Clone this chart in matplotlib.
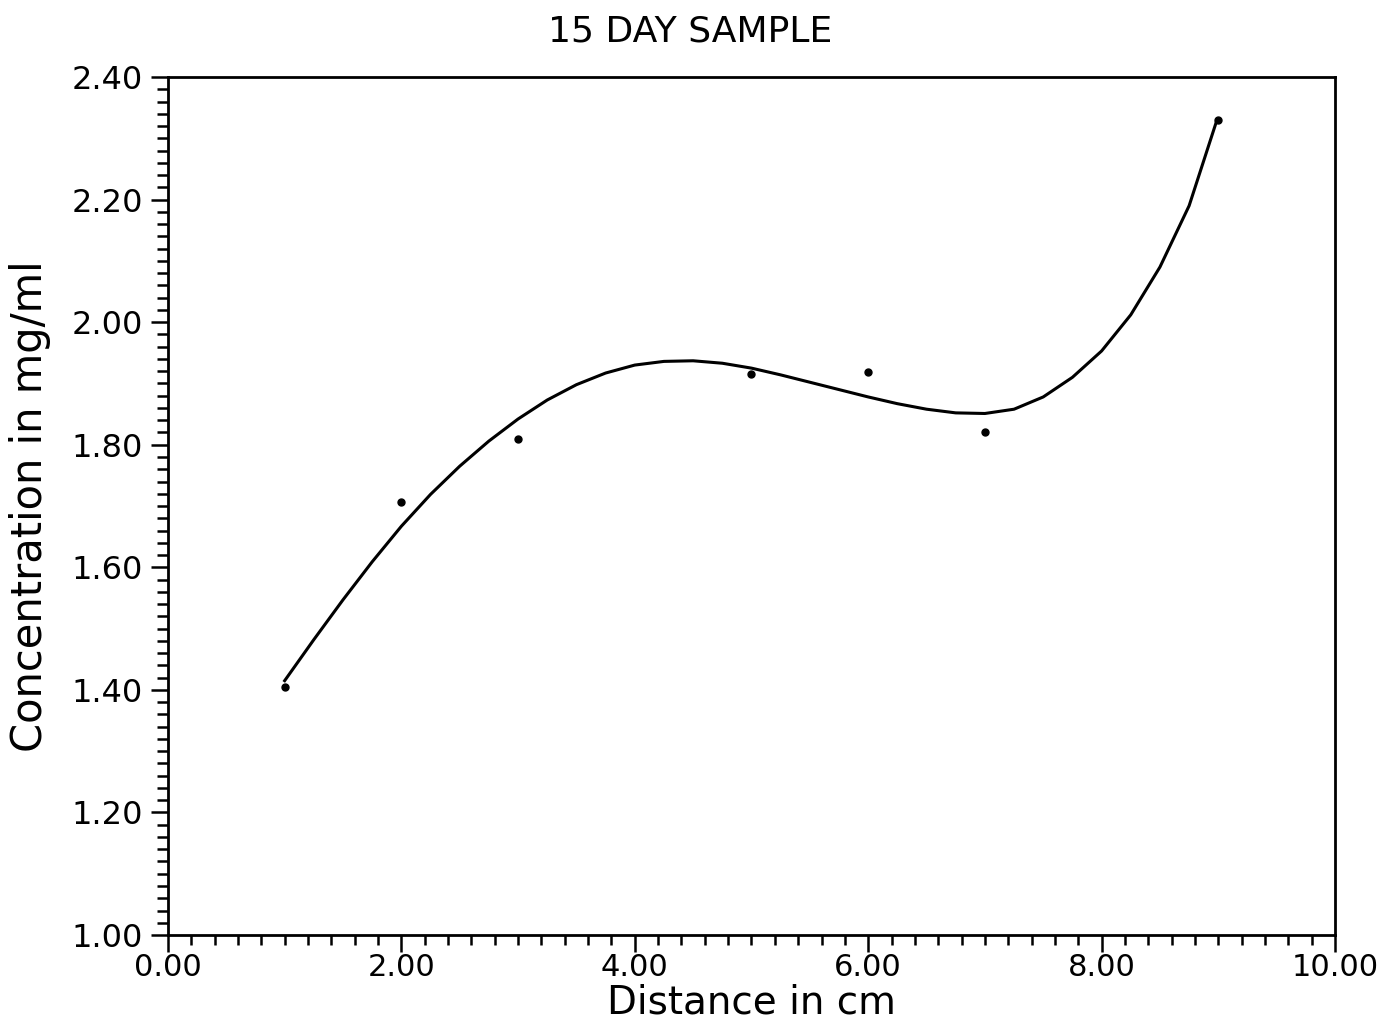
import numpy as np
import matplotlib.pyplot as plt
from matplotlib.ticker import MultipleLocator, FormatStrFormatter

# measured samples
distance = [1.0, 2.0, 3.0, 5.0, 6.0, 7.0, 9.0]
concentration = [1.404, 1.707, 1.809, 1.916, 1.919, 1.821, 2.330]

# fitted curve
curve_x = [1.00, 1.25, 1.50, 1.75, 2.00, 2.25, 2.50, 2.75, 3.00, 3.25,
           3.50, 3.75, 4.00, 4.25, 4.50, 4.75, 5.00, 5.25, 5.50, 5.75,
           6.00, 6.25, 6.50, 6.75, 7.00, 7.25, 7.50, 7.75, 8.00, 8.25,
           8.50, 8.75, 8.98]
curve_y = [1.415, 1.482, 1.547, 1.609, 1.667, 1.719, 1.765, 1.806, 1.842, 1.873,
           1.898, 1.917, 1.930, 1.936, 1.937, 1.933, 1.925, 1.914, 1.902, 1.890,
           1.878, 1.867, 1.858, 1.852, 1.851, 1.858, 1.878, 1.910, 1.953, 2.012,
           2.090, 2.190, 2.325]

title = "15 DAY SAMPLE"
xlabel = "Distance in cm"
ylabel = "Concentration in mg/ml"

plt.rcParams["font.family"] = "DejaVu Sans"

fig = plt.figure(figsize=(13.8, 10.23), dpi=100)
ax = fig.add_axes([0.1217, 0.086, 0.8457, 0.8387])

ax.plot(curve_x, curve_y, color="black", lw=2.2, solid_joinstyle="round")
ax.plot(distance, concentration, "o", color="black", ms=5)

ax.set_xlim(0, 10)
ax.set_ylim(1.0, 2.4)
ax.xaxis.set_major_locator(MultipleLocator(2))
ax.xaxis.set_minor_locator(MultipleLocator(0.2))
ax.yaxis.set_major_locator(MultipleLocator(0.2))
ax.yaxis.set_minor_locator(MultipleLocator(0.02))
ax.xaxis.set_major_formatter(FormatStrFormatter("%.2f"))
ax.yaxis.set_major_formatter(FormatStrFormatter("%.2f"))

ax.tick_params(which="both", direction="out", width=1.8, labelsize=23,
               top=False, right=False)
ax.tick_params(axis="x", labelsize=22)
ax.tick_params(axis="y", which="major", length=12, pad=6)
ax.tick_params(axis="y", which="minor", length=8)
ax.tick_params(axis="x", which="major", length=12, pad=1)
ax.tick_params(axis="x", which="minor", length=7)
for s in ax.spines.values():
    s.set_linewidth(2)

ax.set_xlabel(xlabel, fontsize=28)
ax.set_ylabel(ylabel, fontsize=30)
ax.xaxis.set_label_coords(0.5, -0.057)
ax.yaxis.set_label_coords(-0.10, 0.5)
fig.text(0.5, 0.959, title, ha="center", va="baseline", fontsize=26)

fig.savefig("out.png", dpi=100)
